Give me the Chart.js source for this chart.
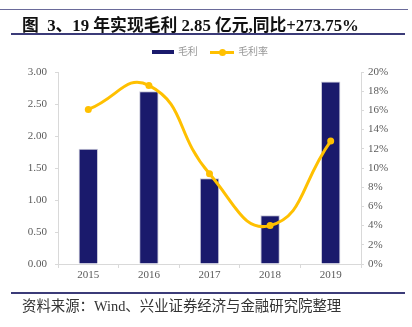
<!DOCTYPE html>
<html>
<head>
<meta charset="utf-8">
<script src="https://cdn.jsdelivr.net/npm/chart.js@4/dist/chart.umd.min.js"></script>
<style>
  html, body { margin: 0; padding: 0; background: #fff; }
  #wrap { position: relative; width: 412px; height: 327px; overflow: hidden; }
  #chart { position: absolute; left: 0; top: 0; }
  .rule { position: absolute; height: 0; border-top: 2px solid #3b3b78; }
  #title {
    position: absolute; left: 22px; top: 12px; white-space: nowrap;
    font-family: "Liberation Serif", "Noto Sans CJK SC", serif;
    font-weight: bold; font-size: 16.8px; color: #111;
  }
  #legend {
    position: absolute; left: 4px; width: 412px; top: 41px; text-align: center;
    font-family: "Noto Sans CJK SC", sans-serif; font-size: 10px; color: #999;
  }
  #legend span.item { display: inline-block; margin: 0 5px; vertical-align: middle; }
  .sw-bar { display: inline-block; width: 22px; height: 4px; background: #1a1a6c; vertical-align: middle; margin-right: 4px; }
  .sw-line { display: inline-block; position: relative; width: 24px; height: 3px; background: #ffc000; vertical-align: middle; margin-right: 4px; }
  .sw-line::after { content: ""; position: absolute; left: 9px; top: -2px; width: 7px; height: 7px; border-radius: 50%; background: #ffc000; }
  #source {
    position: absolute; left: 22px; top: 294px; white-space: nowrap;
    font-family: "Liberation Serif", "Noto Sans CJK SC", serif;
    font-size: 14.4px; color: #333;
  }
</style>
</head>
<body>
<div id="wrap">
  <canvas id="chart" width="412" height="327"></canvas>
  <div class="rule" style="left:0;width:408px;top:9px;border-top-width:1px;border-color:#6a6a9a"></div>
  <div id="title">图&nbsp; 3、19 年实现毛利 2.85 亿元,同比+273.75%</div>
  <div class="rule" style="left:11px;width:394px;top:33px"></div>
  <div id="legend">
    <span class="item"><span class="sw-bar"></span>毛利</span>
    <span class="item"><span class="sw-line"></span>毛利率</span>
  </div>
  <div class="rule" style="left:11px;width:394px;top:292px"></div>
  <div id="source">资料来源：Wind、兴业证券经济与金融研究院整理</div>
</div>
<script>
// gross profit (亿元) and gross margin (%) by year
const years = ['2015', '2016', '2017', '2018', '2019'];
const grossProfit = [1.80, 2.70, 1.34, 0.76, 2.85];
const grossMargin = [16.1, 18.6, 9.4, 4.0, 12.8];

const leftTicks = [0, 0.5, 1, 1.5, 2, 2.5, 3];
const rightTicks = [0, 2, 4, 6, 8, 10, 12, 14, 16, 18, 20];

const tickFont = { family: 'Liberation Serif', size: 11 };
const tickColor = '#5a5a5a';
const axisColor = '#d9d9d9';

new Chart(document.getElementById('chart'), {
    data: {
        labels: years,
        datasets: [
            {
                type: 'bar',
                label: '毛利',
                data: grossProfit,
                backgroundColor: '#1a1a6c',
                borderColor: '#c8c8d8',
                borderWidth: { top: 1, left: 1, right: 1, bottom: 0 },
                barPercentage: 0.64,
                categoryPercentage: 0.5,
                yAxisID: 'y',
                order: 2
            },
            {
                type: 'line',
                label: '毛利率',
                data: grossMargin,
                borderColor: '#ffc000',
                backgroundColor: '#ffc000',
                borderWidth: 3,
                tension: 0.5,
                clip: false,
                pointRadius: 3.5,
                pointBackgroundColor: '#ffc000',
                pointBorderWidth: 0,
                yAxisID: 'y1',
                order: 1
            }
        ]
    },
    options: {
        responsive: false,
        animation: false,
        layout: { padding: { top: 72, left: 0, right: 0, bottom: 0 } },
        plugins: { legend: { display: false }, tooltip: { enabled: false } },
        scales: {
            x: {
                offset: true,
                grid: { offset: true, drawOnChartArea: false, color: axisColor, tickLength: 4 },
                border: { color: axisColor },
                ticks: { color: tickColor, font: tickFont, padding: 1 },
                afterFit: s => { s.height = 327 - 264; }
            },
            y: {
                position: 'left',
                min: 0, max: 3,
                afterBuildTicks: s => { s.ticks = leftTicks.map(v => ({ value: v })); },
                grid: { drawOnChartArea: false, color: axisColor, tickLength: 3 },
                border: { color: axisColor },
                ticks: { color: tickColor, font: tickFont, padding: 8, callback: v => v.toFixed(2) },
                afterFit: s => { s.width = 58; }
            },
            y1: {
                position: 'right',
                min: 0, max: 20,
                afterBuildTicks: s => { s.ticks = rightTicks.map(v => ({ value: v })); },
                grid: { drawOnChartArea: false, color: axisColor, tickLength: 3 },
                border: { color: axisColor },
                ticks: { color: tickColor, font: tickFont, padding: 4, callback: v => v + '%' },
                afterFit: s => { s.width = 412 - 361; }
            }
        }
    }
});
</script>
</body>
</html>
